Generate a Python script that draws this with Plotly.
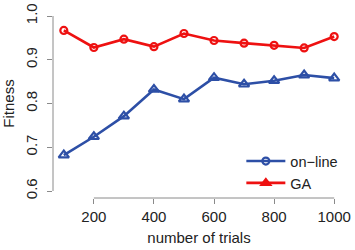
import plotly.graph_objects as go

trials = [100, 200, 300, 400, 500, 600, 700, 800, 900, 1000]
ga_red = [0.967, 0.928, 0.947, 0.930, 0.960, 0.944, 0.938, 0.933, 0.927, 0.953]
online_blue = [0.682, 0.724, 0.771, 0.832, 0.810, 0.859, 0.844, 0.852, 0.865, 0.858]
x_ticks = [200, 400, 600, 800, 1000]
y_ticks = [0.6, 0.7, 0.8, 0.9, 1.0]

RED = "#EE1111"
BLUE = "#2D4FA6"
AXC = "#8a8a8a"
FONT = "Liberation Sans, Arial, Helvetica, sans-serif"

fig = go.Figure()
fig.add_trace(go.Scatter(
    x=trials, y=ga_red, mode="lines+markers", showlegend=False,
    line=dict(color=RED, width=2.6),
    marker=dict(symbol="circle-open", size=7, color=RED, line=dict(width=2.2, color=RED)),
))
fig.add_trace(go.Scatter(
    x=trials, y=online_blue, mode="lines+markers", showlegend=False,
    line=dict(color=BLUE, width=2.6),
    marker=dict(symbol="triangle-up-open", size=9, color=BLUE, line=dict(width=2.2, color=BLUE)),
))
# legend entries (as in the reference)
fig.add_trace(go.Scatter(
    x=[None], y=[None], mode="lines+markers", name="on\u2212line",
    line=dict(color=BLUE, width=2.6),
    marker=dict(symbol="circle-open", size=7, color=BLUE, line=dict(width=2.2, color=BLUE)),
))
fig.add_trace(go.Scatter(
    x=[None], y=[None], mode="lines+markers", name="GA",
    line=dict(color=RED, width=2.6),
    marker=dict(symbol="triangle-up", size=9, color=RED, line=dict(width=1.5, color=RED)),
))

# R-style axis lines spanning only the tick range
fig.add_shape(type="line", xref="x", yref="paper", x0=min(x_ticks), x1=max(x_ticks), y0=0, y1=0,
              line=dict(color=AXC, width=1))
fig.add_shape(type="line", xref="paper", yref="y", x0=0, x1=0, y0=min(y_ticks), y1=max(y_ticks),
              line=dict(color=AXC, width=1))

fig.update_layout(
    width=355, height=250,
    margin=dict(l=53, r=7, t=4, b=52),
    paper_bgcolor="white", plot_bgcolor="white",
    font=dict(family=FONT, size=15, color="#222222"),
    xaxis=dict(range=[64, 1036], tickvals=x_ticks, ticktext=[str(v) for v in x_ticks],
               showgrid=False, zeroline=False, showline=False,
               ticks="outside", ticklen=5, tickcolor=AXC, tickwidth=1,
               ticklabelstandoff=0, ticklabeloverflow="allow",
               title=dict(text="number of trials", standoff=8, font=dict(size=15))),
    yaxis=dict(range=[0.584, 1.016], tickvals=y_ticks, ticktext=[f"{v:.1f}" for v in y_ticks],
               tickangle=-90, showgrid=False, zeroline=False, showline=False,
               ticks="outside", ticklen=5, tickcolor=AXC, tickwidth=1,
               ticklabelstandoff=4, ticklabeloverflow="allow",
               title=dict(text="Fitness", standoff=6, font=dict(size=15))),
    legend=dict(x=0.645, y=0.137, xanchor="left", yanchor="middle",
                bgcolor="rgba(0,0,0,0)", font=dict(size=14.5), tracegroupgap=0,
                itemwidth=39),
)

fig.write_html("out.html", config={"displayModeBar": False},
               post_script="document.body.style.margin='0';document.body.style.overflow='hidden';")
